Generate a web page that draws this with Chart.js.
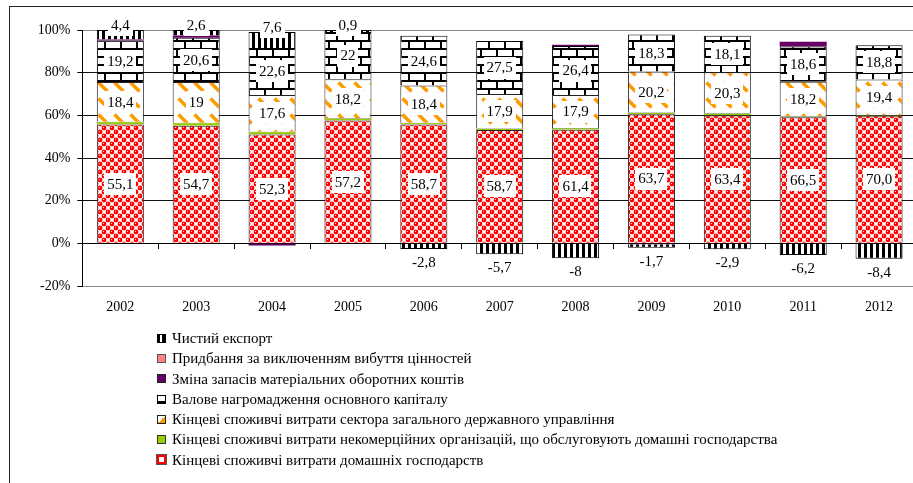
<!DOCTYPE html>
<html>
<head>
<meta charset="utf-8">
<script src="https://cdn.jsdelivr.net/npm/chart.js@4.4.1/dist/chart.umd.min.js"></script>
<style>
  html, body { margin: 0; padding: 0; background: #fff; overflow: hidden; width: 913px; height: 483px; }
  #wrap { position: relative; width: 913px; height: 483px; overflow: hidden; }
  #frame { position: absolute; left: 9px; top: 6px; width: 920px; height: 500px; border-left: 1px solid #222; border-top: 1px solid #222; pointer-events: none; }
  canvas { position: absolute; left: 0; top: 0; }
  #legend { position: absolute; left: 157px; top: 328px; font-family: "Liberation Serif", "Times New Roman", serif; font-size: 15px; color: #000; }
  #legend .row { height: 20.3px; line-height: 20.3px; white-space: nowrap; display: flex; align-items: center; }
  #legend .mk { width: 7px; height: 7px; margin-right: 6px; box-sizing: content-box; flex: none; }
</style>
</head>
<body>
<div id="wrap">
  <canvas id="c" width="920" height="483"></canvas>
  <div id="frame"></div>
  <div id="legend"></div>
</div>
<script>
// ---- data ----
const years = ['2002','2003','2004','2005','2006','2007','2008','2009','2010','2011','2012'];
const households   = [55.1, 54.7, 52.3, 57.2, 58.7, 58.7, 61.4, 63.7, 63.4, 66.5, 70.0];
const npish        = [1.3, 1.4, 1.3, 1.1, 0.9, 0.8, 0.9, 0.9, 1.1, 0.6, 0.5];
const government   = [18.4, 19, 17.6, 18.2, 18.4, 17.9, 17.9, 20.2, 20.3, 18.2, 19.4];
const grossCapital = [19.2, 20.6, 22.6, 22, 24.6, 27.5, 26.4, 18.3, 18.1, 18.6, 18.8];
const inventories  = [0.5, 1.0, -1.0, 0, 0, 0, 0.7, -0.5, 0, 2.5, 0];
const valuables    = [0, 0, 0, 0, 0, 0, 0, 0, 0, 0, 0];
const netExports   = [4.4, 2.6, 7.6, 0.9, -2.8, -5.7, -8, -1.7, -2.9, -6.2, -8.4];
const yTicks = [-20, 0, 20, 40, 60, 80, 100];

const seriesNames = {
  households: 'Кінцеві споживчі витрати домашніх господарств',
  npish: 'Кінцеві споживчі витрати некомерційних організацій, що обслуговують домашні господарства',
  government: 'Кінцеві споживчі витрати сектора загального державного управління',
  grossCapital: 'Валове нагромадження основного капіталу',
  inventories: 'Зміна запасів матеріальних оборотних коштів',
  valuables: 'Придбання за виключенням вибуття цінностей',
  netExports: 'Чистий експорт'
};

// ---- patterns ----
function makePattern(w, h, draw) {
  const c = document.createElement('canvas');
  c.width = w; c.height = h;
  const g = c.getContext('2d');
  draw(g, w, h);
  return g.createPattern(c, 'repeat');
}
const patHouse = makePattern(8, 8, (g) => {
  g.fillStyle = '#fff'; g.fillRect(0, 0, 8, 8);
  g.fillStyle = '#ff0000';
  [[4,4],[0,0],[8,0],[0,8],[8,8]].forEach(([x,y]) => { g.beginPath(); g.arc(x, y, 2.45, 0, Math.PI*2); g.fill(); });
  g.fillStyle = '#ffe0e0'; g.fillRect(3, 3, 1, 1); g.fillRect(7, 7, 1, 1);
});
const patGov = makePattern(16, 16, (g) => {
  g.fillStyle = '#fff'; g.fillRect(0, 0, 16, 16);
  g.strokeStyle = '#ff9900'; g.lineWidth = 3.6; g.lineCap = 'butt';
  g.beginPath(); g.moveTo(2.5, 2.5); g.lineTo(11.5, 11.5); g.stroke();
});
const patBrick = makePattern(16, 16, (g) => {
  g.fillStyle = '#fff'; g.fillRect(0, 0, 16, 16);
  g.fillStyle = '#000';
  g.fillRect(0, 0, 16, 2); g.fillRect(0, 8, 16, 2);
  g.fillRect(0, 0, 2, 8); g.fillRect(8, 8, 2, 8);
});
const patExport = makePattern(6, 6, (g) => {
  g.fillStyle = '#fff'; g.fillRect(0, 0, 6, 6);
  g.fillStyle = '#000'; g.fillRect(0, 0, 3, 6);
});

// ---- 100% stacked (share of sum of absolute values, as the source chart does) ----
const allSeries = [households, npish, government, grossCapital, inventories, valuables, netExports];
const totals = years.map((_, i) => allSeries.reduce((s, arr) => s + Math.abs(arr[i]), 0));
const share = arr => arr.map((v, i) => v / totals[i] * 100);

const datasets = [
  { key: 'households', raw: households, backgroundColor: patHouse, borderColor: '#222', borderWidth: 1 },
  { key: 'npish', raw: npish, backgroundColor: '#99cc00', borderColor: '#333', borderWidth: 0.5 },
  { key: 'government', raw: government, backgroundColor: patGov, borderColor: '#222', borderWidth: 1 },
  { key: 'grossCapital', raw: grossCapital, backgroundColor: patBrick, borderColor: '#000', borderWidth: 1 },
  { key: 'inventories', raw: inventories, backgroundColor: '#660066', borderColor: '#330033', borderWidth: 0 },
  { key: 'valuables', raw: valuables, backgroundColor: '#ff8080', borderColor: '#333', borderWidth: 0 },
  { key: 'netExports', raw: netExports, backgroundColor: patExport, borderColor: '#000', borderWidth: 1 }
].map(d => ({
  label: seriesNames[d.key],
  data: share(d.raw),
  backgroundColor: d.backgroundColor,
  borderColor: d.borderColor,
  borderWidth: d.borderWidth,
  borderSkipped: 'start',
  categoryPercentage: 1.0,
  barPercentage: 0.62
}));

const rawByIndex = [households, npish, government, grossCapital, inventories, valuables, netExports];
const labelled = [
  { index: 0, fmt: v => v.toFixed(1), mode: 'center' },
  { index: 2, fmt: v => Number.isInteger(v) ? String(v) : v.toFixed(1), mode: 'center' },
  { index: 3, fmt: v => Number.isInteger(v) ? String(v) : v.toFixed(1), mode: 'center' },
  { index: 6, fmt: v => Number.isInteger(v) ? String(v) : v.toFixed(1), mode: 'outside' }
];

const labelPlugin = {
  id: 'valueLabels',
  afterDatasetsDraw(chart) {
    const ctx = chart.ctx;
    ctx.save();
    ctx.font = '15px "Liberation Serif"';
    ctx.textAlign = 'center';
    ctx.textBaseline = 'middle';
    labelled.forEach(({ index, fmt, mode }) => {
      const meta = chart.getDatasetMeta(index);
      meta.data.forEach((bar, i) => {
        const raw = rawByIndex[index][i];
        const text = fmt(raw).replace('.', ',');
        const x = bar.x;
        let y;
        const top = Math.min(bar.y, bar.base), bottom = Math.max(bar.y, bar.base);
        if (mode === 'center') y = (top + bottom) / 2;
        else y = raw >= 0 ? top - 5 : bottom + 13;
        const w = ctx.measureText(text).width;
        if (mode === 'center' || raw >= 0) {
          ctx.fillStyle = '#fff';
          ctx.fillRect(Math.round(x - w / 2 - 3), Math.round(y - 11), Math.round(w + 6), 22);
        }
        ctx.fillStyle = '#000';
        ctx.fillText(text, x, y + 1);
      });
    });
    ctx.restore();
  }
};

const chart = new Chart(document.getElementById('c'), {
  type: 'bar',
  data: { labels: years, datasets },
  options: {
    responsive: false,
    animation: false,
    devicePixelRatio: 1,
    layout: { padding: { top: 30, left: 0, right: 3, bottom: 197 } },
    plugins: { legend: { display: false }, tooltip: { enabled: false } },
    scales: {
      x: {
        stacked: true,
        position: { y: 0 },
        grid: { display: true, drawOnChartArea: false, offset: true, tickLength: 5, tickColor: '#000', tickWidth: 1 },
        border: { display: true, color: '#000', width: 1 },
        ticks: { padding: 21, color: '#000', font: { family: 'Liberation Serif', size: 14, lineHeight: '76px' }, maxRotation: 0 }
      },
      y: {
        stacked: true,
        min: -20, max: 100,
        afterBuildTicks: s => { s.ticks = yTicks.map(v => ({ value: v })); },
        afterFit: s => { s.width = 82.4; },
        grid: {
          color: c => (c.tick && (c.tick.value === 100 || c.tick.value === -20)) ? '#8a8a8a' : '#111',
          tickColor: '#000', tickLength: 5, lineWidth: 1
        },
        border: { display: true, color: '#000', width: 1 },
        ticks: { padding: 7, color: '#000', font: { family: 'Liberation Serif', size: 14 }, callback: v => v + '%' }
      }
    }
  },
  plugins: [labelPlugin]
});

// ---- legend (reversed order, like the source) ----
const markerCss = {
  netExports: 'background: linear-gradient(90deg,#000 0 2px,#fff 2px 4px,#000 4px); border:1px solid #000;',
  valuables: 'background:#ff8080; border:1px solid #555;',
  inventories: 'background:#660066; border:1px solid #222;',
  grossCapital: 'background:#fff; border:1px solid #000; border-bottom-width:3px; height:5px;',
  government: 'background: linear-gradient(135deg,#fff 50%,#ff9900 50%); border:1px solid #222;',
  npish: 'background:#99cc00; border:1px solid #333;',
  households: 'background:#fff; border:2px solid #ff0000; width:5px; height:5px; outline:1px solid #555;'
};
const legendOrder = ['netExports','valuables','inventories','grossCapital','government','npish','households'];
const legendEl = document.getElementById('legend');
legendOrder.forEach(k => {
  const row = document.createElement('div'); row.className = 'row';
  const mk = document.createElement('span'); mk.className = 'mk'; mk.style.cssText = markerCss[k];
  const tx = document.createElement('span'); tx.textContent = seriesNames[k];
  row.appendChild(mk); row.appendChild(tx); legendEl.appendChild(row);
});
</script>
</body>
</html>
